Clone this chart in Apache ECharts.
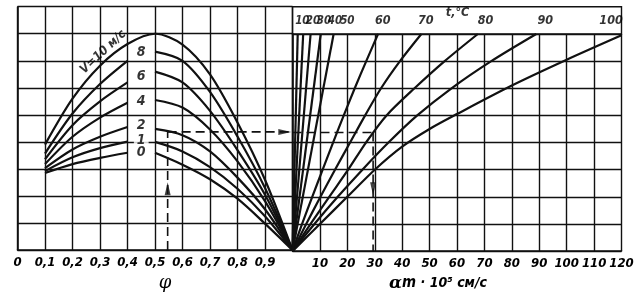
<!DOCTYPE html>
<html><head><meta charset="utf-8">
<script src="https://cdn.jsdelivr.net/npm/echarts@6.0.0/dist/echarts.min.js"></script>
<style>html,body{margin:0;padding:0;background:#fff}#c{width:642px;height:297px}</style>
</head><body><div id="c"></div>
<script>
// ---- data ----
const PHI = [0.1, 0.2, 0.3, 0.4, 0.5, 0.6, 0.7, 0.8, 0.9, 1.0];
const Y_V10 = [3.9, 5.6, 6.82, 7.62, 8.0, 7.6, 6.5, 4.72, 2.6, 0];
const Y_V8  = [3.57, 5.05, 6.14, 7.0, 7.34, 7.0, 5.85, 4.2, 2.3, 0];
const Y_V6  = [3.36, 4.62, 5.5, 6.2, 6.6, 6.2, 5.15, 3.7, 2.05, 0];
const Y_V4  = [3.18, 4.19, 4.9, 5.45, 5.55, 5.27, 4.46, 3.28, 1.81, 0];
const Y_V2  = [3.03, 3.72, 4.19, 4.55, 4.48, 4.25, 3.65, 2.68, 1.51, 0];
const Y_V1  = [2.92, 3.43, 3.77, 4.01, 4.0, 3.65, 3.07, 2.27, 1.25, 0];
const Y_V0  = [2.85, 3.18, 3.41, 3.6, 3.6, 3.16, 2.62, 1.9, 0.98, 0];

const V_LABEL_TEXT = ['8', '6', '4', '2', '1', '0'];
const V_LABEL_Y = [7.32, 6.41, 5.51, 4.61, 4.07, 3.61];
const V_LABEL_PHI = 0.45;

const T_Y = [0, 1, 2, 3, 4, 5, 6, 7, 8];
const A_T60 = [0, 3.5, 7.2, 11, 14.8, 18.7, 22.7, 26.9, 31.2];
const A_T70 = [0, 5, 10.2, 15.5, 21, 26.5, 32.3, 39.2, 47];
const A_T80 = [0, 6.6, 13.4, 20.3, 26.8, 34.3, 44.5, 55.5, 67.6];
const A_T90 = [0, 8, 16.5, 25.5, 35, 45.5, 58, 72.5, 88.9];
const T100_A = [0, 10, 20, 30, 40, 50, 60, 80, 100, 120];
const T100_Y = [0, 1.0, 2.0, 3.0, 3.85, 4.5, 5.05, 6.1, 7.05, 7.95];
const A_STEEP_TOP = [1.9, 3.9, 6.6, 10.3, 15];   // t = 10,20,30,40,50 at top

const T_LABELS = ['10', '20', '30', '40', '50', '60', '70', '80', '90', '100'];
const T_LABEL_A = [3.6, 7.5, 11.5, 15.5, 20.0, 32.9, 48.6, 70.4, 92.2, 116.2];

const PHI_READ = 0.546, Y_READ = 4.37, ALPHA_READ = 29.4;

// ---- styling ----
const INK = '#111';
const FONT = '"Liberation Sans Narrow","DejaVu Sans Condensed","Liberation Sans",sans-serif';
const numStyle = { color: '#000', fontFamily: FONT, fontStyle: 'italic', fontWeight: 'bold', fontSize: 13 };

function curve(data, xi, w) {
  return { type: 'line', xAxisIndex: xi, yAxisIndex: xi, data: data, smooth: 0.3,
    symbol: 'none', silent: true, lineStyle: { color: INK, width: w || 2.2 }, z: 3 };
}
function vCurve(ys, broken) {
  const d = PHI.map((p, i) => [p, ys[i]]);
  if (broken) d.splice(4, 0, [0.45, '-']);
  return curve(d, 0);
}
function tCurve(as, ys) { return curve(as.map((a, i) => [a, ys[i]]), 1); }
function dashed(xi, pts) {
  return { type: 'line', xAxisIndex: xi, yAxisIndex: xi, data: pts, symbol: 'none', silent: true,
    lineStyle: { color: INK, width: 1.6, type: [9, 5] }, z: 4 };
}
const ARROW = 'path://M0,0L4,14L-4,14Z';
function arrow(xi, pt, rot) {
  return { type: 'scatter', xAxisIndex: xi, yAxisIndex: xi, data: [pt], symbol: ARROW, symbolSize: [6, 13],
    symbolRotate: rot, itemStyle: { color: INK }, silent: true, z: 5 };
}

const series = [
  vCurve(Y_V10, false), vCurve(Y_V8, true), vCurve(Y_V6, true), vCurve(Y_V4, true),
  vCurve(Y_V2, true), vCurve(Y_V1, true), vCurve(Y_V0, true),
  tCurve(A_T60, T_Y), tCurve(A_T70, T_Y), tCurve(A_T80, T_Y), tCurve(A_T90, T_Y), tCurve(T100_A, T100_Y)
];
A_STEEP_TOP.forEach(a => series.push(curve([[0, 0], [a, 8]], 1)));

series.push(dashed(0, [[PHI_READ, 0], [PHI_READ, Y_READ]]));
series.push(dashed(0, [[PHI_READ, Y_READ], [1, Y_READ]]));
series.push(dashed(1, [[0, Y_READ], [ALPHA_READ, Y_READ]]));
series.push(dashed(1, [[ALPHA_READ, Y_READ], [ALPHA_READ, 0]]));
series.push(arrow(0, [PHI_READ, 2.27], 0));
series.push(arrow(0, [0.972, Y_READ], -90));
series.push(arrow(1, [ALPHA_READ, 2.3], 180));

// v labels
series.push({ type: 'scatter', xAxisIndex: 0, yAxisIndex: 0, symbolSize: 1, itemStyle: { color: 'rgba(0,0,0,0)' }, silent: true, z: 6,
  data: V_LABEL_Y.map((y, i) => ({ value: [V_LABEL_PHI, y], label: { formatter: V_LABEL_TEXT[i] } })),
  label: Object.assign({ show: true, position: 'inside', backgroundColor: '#fff', padding: [0, 3] }, numStyle, { fontSize: 14 }) });
series.push({ type: 'scatter', xAxisIndex: 0, yAxisIndex: 0, symbolSize: 1, itemStyle: { color: 'rgba(0,0,0,0)' }, silent: true, z: 6,
  data: [{ value: [0.311, 7.33], label: { formatter: 'V=10 м/с' } }],
  label: Object.assign({ show: true, position: 'inside', rotate: 43 }, numStyle, { fontSize: 12.5 }) });
// t labels in top band
series.push({ type: 'scatter', xAxisIndex: 2, yAxisIndex: 2, symbolSize: 1, itemStyle: { color: 'rgba(0,0,0,0)' }, silent: true, z: 6,
  data: T_LABEL_A.map((a, i) => ({ value: [a, 8.48], label: { formatter: T_LABELS[i], fontSize: i < 5 ? 11.5 : 12.5 } }))
    .concat([{ value: [60.2, 8.78], label: { formatter: 't,°C' } }]),
  label: Object.assign({ show: true, position: 'inside' }, numStyle, { fontSize: 12.5 }) });

const split = { show: true, lineStyle: { color: INK, width: 1.4 } };
const axLine = { show: true, onZero: false, lineStyle: { color: INK, width: 1.6 } };

const option = {
  animation: false,
  backgroundColor: '#fff',
  grid: [
    { left: 17.5, right: 349.5, top: 6.7, bottom: 41 },
    { left: 292.5, right: 20.5, top: 34, bottom: 41 },
    { left: 292.5, right: 20.5, top: 6.7, height: 27.3, show: true, borderColor: INK, borderWidth: 1.4 }
  ],
  xAxis: [
    { gridIndex: 0, type: 'value', min: 0, max: 1, interval: 0.1, axisLine: axLine, axisTick: { show: false }, splitLine: split,
      axisLabel: Object.assign({ margin: 6, formatter: v => v === 0 ? '0' : (v >= 0.999 ? '' : v.toFixed(1).replace('.', ',')) }, numStyle),
      name: 'φ', nameLocation: 'middle', nameGap: 19,
      nameTextStyle: { color: '#000', fontFamily: 'DejaVu Serif', fontStyle: 'italic', fontSize: 18, padding: [0, 0, 0, 20] } },
    { gridIndex: 1, type: 'value', min: 0, max: 120, interval: 10, axisLine: axLine, axisTick: { show: false }, splitLine: split,
      axisLabel: Object.assign({ margin: 6, formatter: v => v === 0 ? '' : String(v) }, numStyle),
      name: '{a|α}{m|m} · 10⁵ см/с', nameLocation: 'middle', nameGap: 22,
      nameTextStyle: { color: '#000', fontFamily: FONT, fontStyle: 'italic', fontWeight: 'bold', fontSize: 14, padding: [0, 38, 0, 0],
        rich: { a: { fontFamily: 'DejaVu Serif', fontStyle: 'italic', fontSize: 17, color: '#000' },
                m: { fontFamily: FONT, fontStyle: 'italic', fontWeight: 'bold', fontSize: 15, color: '#000' } } } },
    { gridIndex: 2, type: 'value', min: 0, max: 120, show: false }
  ],
  yAxis: [
    { gridIndex: 0, type: 'value', min: 0, max: 9, interval: 1, axisLine: axLine, axisTick: { show: false }, axisLabel: { show: false }, splitLine: split },
    { gridIndex: 1, type: 'value', min: 0, max: 8, interval: 1, axisLine: axLine, axisTick: { show: false }, axisLabel: { show: false }, splitLine: split },
    { gridIndex: 2, type: 'value', min: 8, max: 9, show: false }
  ],
  series: series
};
const chart = echarts.init(document.getElementById('c'), null, { renderer: 'canvas' });
chart.setOption(option);
</script></body></html>
